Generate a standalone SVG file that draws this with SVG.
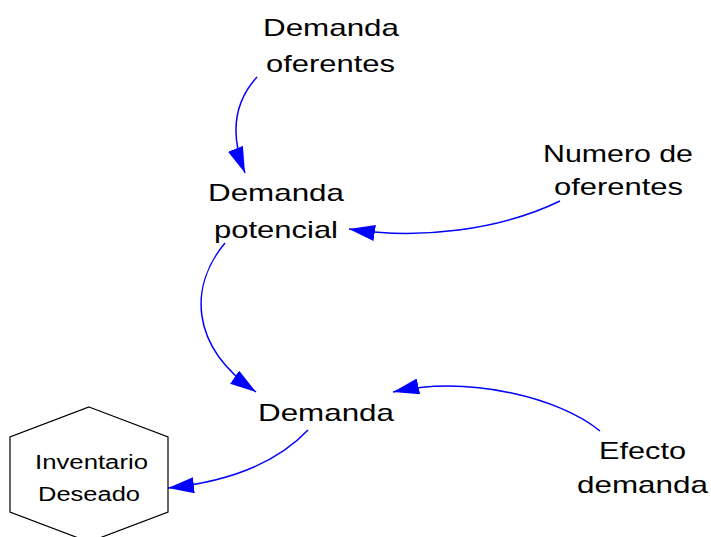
<svg xmlns="http://www.w3.org/2000/svg" width="711" height="537" viewBox="0 0 711 537">
<style>
  .lbl { font-family: "Liberation Sans", Arial, sans-serif; font-size: 24px; fill: #000; }
  .small { font-size: 20px; }
  .conn { fill: none; stroke: #0000FF; stroke-width: 1.5; }
  .hex { fill: #fff; stroke: #000; stroke-width: 1.2; }
</style>
<defs>
  <marker id="arr" viewBox="0 0 26 16" refX="26" refY="8" markerWidth="26" markerHeight="16" markerUnits="userSpaceOnUse" orient="auto">
    <path d="M0,0 L26,8 L0,16 z" fill="#0000FF"/>
  </marker>
</defs>
<rect width="711" height="537" fill="#fff"/>
<g id="connectors">
  <path class="conn" marker-end="url(#arr)" d="M257,77 C236,100 228,130 245,173"/>
  <path class="conn" marker-end="url(#arr)" d="M560,201 C500,230 420,240 349,229"/>
  <path class="conn" marker-end="url(#arr)" d="M225,243 C190,285 188,345 256,392"/>
  <path class="conn" marker-end="url(#arr)" d="M600,431 C560,398 470,375 393,392"/>
  <path class="conn" marker-end="url(#arr)" d="M308,430 C275,465 225,482 168,488"/>
</g>
<g id="demanda_oferentes">
  <text class="lbl" x="263" y="36" textLength="136" lengthAdjust="spacingAndGlyphs">Demanda</text>
  <text class="lbl" x="266" y="72" textLength="129" lengthAdjust="spacingAndGlyphs">oferentes</text>
</g>
<g id="demanda_potencial">
  <text class="lbl" x="208" y="201" textLength="136" lengthAdjust="spacingAndGlyphs">Demanda</text>
  <text class="lbl" x="214" y="238" textLength="124" lengthAdjust="spacingAndGlyphs">potencial</text>
</g>
<g id="numero_oferentes">
  <text class="lbl" x="543" y="162" textLength="150" lengthAdjust="spacingAndGlyphs">Numero de</text>
  <text class="lbl" x="554" y="195" textLength="129" lengthAdjust="spacingAndGlyphs">oferentes</text>
</g>
<g id="demanda">
  <text class="lbl" x="258" y="421" textLength="136" lengthAdjust="spacingAndGlyphs">Demanda</text>
</g>
<g id="efecto_demanda">
  <text class="lbl" x="599" y="459" textLength="87" lengthAdjust="spacingAndGlyphs">Efecto</text>
  <text class="lbl" x="577" y="493" textLength="131" lengthAdjust="spacingAndGlyphs">demanda</text>
</g>
<g id="inventario_deseado">
  <polygon class="hex" points="89,407 168,437 168,512 89,542 10,512 10,437"/>
  <text class="lbl small" x="35" y="469" textLength="113" lengthAdjust="spacingAndGlyphs">Inventario</text>
  <text class="lbl small" x="38" y="501" textLength="102" lengthAdjust="spacingAndGlyphs">Deseado</text>
</g>
</svg>
